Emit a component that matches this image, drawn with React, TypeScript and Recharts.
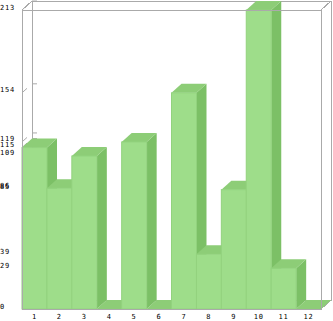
import * as React from "react";
import { BarChart, Bar, XAxis, YAxis } from "recharts";

const categories = ["1", "2", "3", "4", "5", "6", "7", "8", "9", "10", "11", "12"];
const values = [115, 86, 109, 0, 119, 0, 154, 39, 85, 213, 29, 0];
const yTicks = [0, 29, 39, 85, 86, 109, 115, 119, 154, 213];
const yMax = 213;

const data = categories.map((c, i) => ({ name: c, v: values[i] }));

const W = 333;
const H = 321;
const M = { top: 10, right: 12, left: 0, bottom: 0 };
const Y_W = 22;
const X_H = 12;
const DX = 10;
const DY = 9;

const FRONT = "#9edd8a";
const TOP = "#8dcd77";
const SIDE = "#7cc066";
const FRAME = "#aaaaaa";
const FONT = "DejaVu Sans Mono";

// plot box (front face)
const PL = M.left + Y_W;
const PR = W - M.right;
const PT = M.top;
const PB = H - M.bottom - X_H;

// same linear mapping as the y axis, only for the wall tick marks behind the bars
const wallY = (v: number) => PB - (v / yMax) * (PB - PT);

function Bar3D(props: any) {
  const { x, y, width: w, height: h } = props;
  if (x == null || y == null) return null;
  return (
    <g>
      <polygon
        points={`${x + w},${y} ${x + w + DX},${y - DY} ${x + w + DX},${y + h - DY} ${x + w},${y + h}`}
        fill={SIDE}
      />
      <polygon
        points={`${x},${y} ${x + DX},${y - DY} ${x + w + DX},${y - DY} ${x + w},${y}`}
        fill={TOP}
      />
      {h > 0 ? (
        <rect x={x} y={y} width={w} height={h} fill={FRONT} stroke="#92d27e" strokeWidth={1} />
      ) : null}
    </g>
  );
}

function YTick(props: any) {
  const { y, payload } = props;
  return (
    <text
      x={0}
      y={y - 2.5}
      fontSize={7}
      letterSpacing={0.8}
      fontFamily={FONT}
      fill="#000"
      dominantBaseline="central"
    >
      {payload.value}
    </text>
  );
}

function XTick(props: any) {
  const { x, payload } = props;
  return (
    <text
      x={x}
      y={PB + 8}
      fontSize={7}
      letterSpacing={0.8}
      fontFamily={FONT}
      fill="#000"
      textAnchor="middle"
      dominantBaseline="central"
    >
      {payload.value}
    </text>
  );
}

export default function App() {
  const svgStyle: React.CSSProperties = { position: "absolute", left: 0, top: 0, pointerEvents: "none" };
  return (
    <div style={{ position: "absolute", left: 0, top: 0, width: W, height: H, background: "#fff" }}>
      {/* back wall, floor edges, wall ticks */}
      <svg width={W} height={H} style={svgStyle}>
        <g stroke={FRAME} strokeWidth={1} fill="none" shapeRendering="crispEdges">
          <rect x={PL + DX} y={PT - DY} width={PR - PL} height={PB - PT} />
          <line x1={PL} y1={PT} x2={PL + DX} y2={PT - DY} />
          <line x1={PR} y1={PT} x2={PR + DX} y2={PT - DY} />
          <line x1={PR} y1={PB} x2={PR + DX} y2={PB - DY} />
          <line x1={PL} y1={PB} x2={PL + DX} y2={PB - DY} />
        </g>
        <g stroke={FRAME} strokeWidth={1}>
          {yTicks.map((t) => (
            <g key={t}>
              <line x1={PL} y1={wallY(t)} x2={PL + DX / 2} y2={wallY(t) - DY / 2} />
              <line x1={PL + DX} y1={wallY(t) - DY} x2={PL + DX + 5} y2={wallY(t) - DY} />
            </g>
          ))}
        </g>
      </svg>
      <div style={{ position: "absolute", left: 0, top: 0 }}>
        <BarChart width={W} height={H} data={data} margin={M} barCategoryGap={0} barGap={0}>
          <YAxis
            type="number"
            domain={[0, yMax]}
            ticks={yTicks}
            interval={0}
            width={Y_W}
            axisLine={false}
            tickLine={false}
            tick={<YTick />}
          />
          <XAxis dataKey="name" height={X_H} axisLine={false} tickLine={false} interval={0} tick={<XTick />} />
          <Bar dataKey="v" shape={<Bar3D />} isAnimationActive={false} />
        </BarChart>
      </div>
      {/* front frame */}
      <svg width={W} height={H} style={svgStyle}>
        <rect
          x={PL}
          y={PT}
          width={PR - PL}
          height={PB - PT}
          stroke={FRAME}
          fill="none"
          shapeRendering="crispEdges"
        />
      </svg>
    </div>
  );
}
